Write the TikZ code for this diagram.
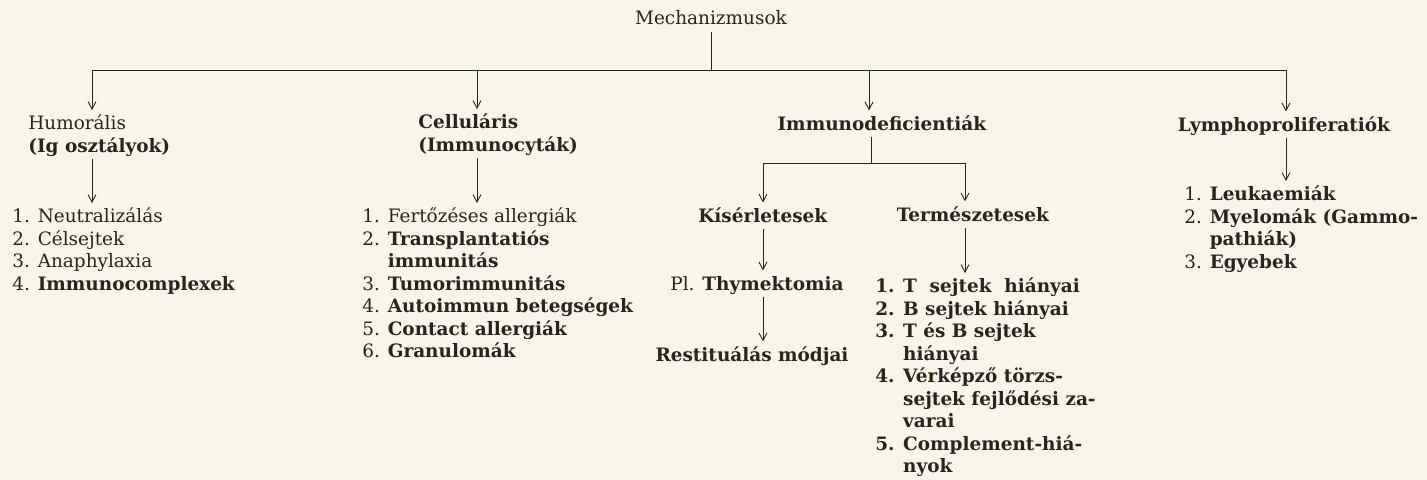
\documentclass[tikz,border=0pt]{standalone}
\usepackage{fontspec}
\setmainfont{DejaVu Serif}
\usetikzlibrary{arrows.meta}
\definecolor{paper}{RGB}{249,245,232}
\definecolor{ink}{RGB}{40,36,32}
\newcommand{\diafont}{\fontsize{10.5pt}{12.8pt}\selectfont}

\begin{document}
\begin{tikzpicture}[
    x=0.02cm, y=-0.02cm,
    txt/.style={
        inner sep=0pt,
        text=ink,
        font=\diafont
    },
    lst/.style={
        txt,
        anchor=north west,
        align=left
    },
    line/.style={draw=ink, line width=0.5pt},
    arr/.style={line, -{Straight Barb[length=1.5mm,width=1.6mm]}, shorten >=2pt}
]

\useasboundingbox (0,0) rectangle (1427,480);
\fill[paper] (0,0) rectangle (1427,480);

\node[txt, anchor=base] (mech) at (711,25) {\strut Mechanizmusok};

\coordinate (top) at (711,70);
\coordinate (b1) at (92,70);
\coordinate (b2) at (477,70);
\coordinate (b3) at (869,70);
\coordinate (b4) at (1286,70);

\node[lst] (humo) at (28,113.5) {\strut Humorális\\\textbf{(Ig osztályok)}\strut};
\node[lst] (humol) at (12,206.5) {\strut 1. Neutralizálás\\2. Célsejtek\\3. Anaphylaxia\\4. \textbf{Immunocomplexek}};

\node[lst] (cell) at (418,112.5) {\strut\textbf{Celluláris}\\\textbf{(Immunocyták)}\strut};
\node[lst] (celll) at (362,206.5) {\strut 1. Fertőzéses allergiák\\2. \textbf{Transplantatiós}\\\phantom{2. }\textbf{immunitás}\\3. \textbf{Tumorimmunitás}\\4. \textbf{Autoimmun betegségek}\\5. \textbf{Contact allergiák}\\6. \textbf{Granulomák}};

\node[txt, anchor=base] (immu) at (882,130) {\strut\textbf{Immunodeficientiák}};
\coordinate (sub) at (871,163);
\coordinate (k) at (763,163);
\coordinate (t) at (965,163);
\node[txt, anchor=base] (kis) at (763,222) {\strut\textbf{Kísérletesek}};
\node[txt, anchor=base] (term) at (973,221) {\strut\textbf{Természetesek}};
\node[txt, anchor=base] (thym) at (757,290) {\strut Pl. \textbf{Thymektomia}};
\node[txt, anchor=base] (rest) at (752,361) {\strut\textbf{Restituálás módjai}};
\node[lst, font=\diafont\bfseries] (terml) at (875,276.5) {\strut 1. T\ \ sejtek\ \ hiányai\\2. B sejtek hiányai\\3. T és B sejtek\\\phantom{3. }hiányai\\4. Vérképző törzs-\\\phantom{4. }sejtek fejlődési za-\\\phantom{4. }varai\\5. Complement-hiá-\\\phantom{5. }nyok};

\node[txt, anchor=base] (lymp) at (1284,131) {\strut\textbf{Lymphoproliferatiók}};
\node[lst] (lympl) at (1184,184.5) {\strut 1. \textbf{Leukaemiák}\\2. \textbf{Myelomák (Gammo-}\\\phantom{2. }\textbf{pathiák)}\\3. \textbf{Egyebek}};

\draw[line] (mech) -- (top);
\draw[line] (b1) -- (b4);
\draw[arr] (b1) -- (b1 |- humo.north);
\draw[arr] (b2) -- (b2 |- cell.north);
\draw[arr] (b3) -- (b3 |- immu.north);
\draw[arr] (b4) -- (b4 |- lymp.north);

\draw[arr] (humo.south -| b1) -- (humol.north -| b1);
\draw[arr] (cell.south -| b2) -- (celll.north -| b2);

\draw[line] (immu.south -| sub) -- (sub);
\draw[line] (k) -- (t);
\draw[arr] (k) -- (k |- kis.north);
\draw[arr] (t) -- (t |- term.north);
\draw[arr] (kis.south -| k) -- (thym.north -| k);
\draw[arr] (thym.south -| k) -- (rest.north -| k);
\draw[arr] (term.south -| t) -- (terml.north -| t);

\draw[arr] (lymp.south -| b4) -- (lympl.north -| b4);

\end{tikzpicture}
\end{document}
